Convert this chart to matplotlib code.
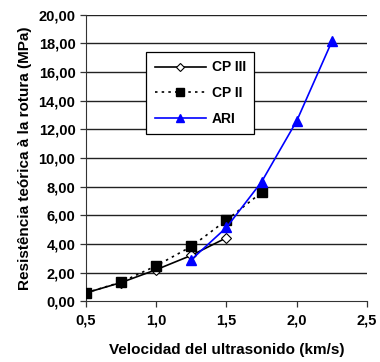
import matplotlib.pyplot as plt

plt.rcParams['font.family'] = ['Liberation Sans', 'DejaVu Sans']

# Velocidad (km/s) y resistencia (MPa)
x_cp3 = [0.5, 0.75, 1.0, 1.25, 1.5]
y_cp3 = [0.58, 1.3, 2.2, 3.2, 4.43]

x_cp2 = [0.5, 0.75, 1.0, 1.25, 1.5, 1.75]
y_cp2 = [0.58, 1.33, 2.47, 3.82, 5.66, 7.6]

x_ari = [1.25, 1.5, 1.75, 2.0, 2.25]
y_ari = [2.9, 5.15, 8.34, 12.6, 18.15]

xticks = [0.5, 1.0, 1.5, 2.0, 2.5]
yticks = [0, 2, 4, 6, 8, 10, 12, 14, 16, 18, 20]

fig = plt.figure(figsize=(3.8, 3.62), dpi=100)
ax = fig.add_axes([0.226, 0.168, 0.74, 0.791])

for y in yticks[1:]:
    ax.axhline(y, color='#222222', lw=1.0, zorder=0)

ax.plot(x_cp3, y_cp3, color='black', lw=1.2, marker='D', ms=5,
        mfc='white', mec='black', mew=0.8, label='CP III', zorder=3)
ax.plot(x_cp2, y_cp2, color='black', lw=1.2, ls=(0, (1.5, 2.5)), marker='s', ms=7,
        mfc='black', mec='black', label='CP II', zorder=4)
ax.plot(x_ari, y_ari, color='#0000FF', lw=1.2, marker='^', ms=7,
        mfc='#0000FF', mec='#0000FF', label='ARI', zorder=5)

ax.set_xlim(0.5, 2.5)
ax.set_ylim(0, 20)
ax.set_xticks(xticks)
ax.set_xticklabels([f'{v:.1f}'.replace('.', ',') for v in xticks],
                   fontsize=10.5, fontweight='bold')
ax.set_yticks(yticks)
ax.set_yticklabels([f'{v:.2f}'.replace('.', ',') for v in yticks],
                   fontsize=10.5, fontweight='bold')
ax.tick_params(direction='out', length=4, width=0.9, color='#333333')
ax.tick_params(axis='x', pad=5)

for s in ['top', 'right']:
    ax.spines[s].set_visible(False)
ax.spines['left'].set_color('#333333')
ax.spines['bottom'].set_color('#333333')

ax.set_xlabel('Velocidad del ultrasonido (km/s)', fontsize=11, fontweight='bold', labelpad=11)
ax.set_ylabel('Resistência teórica à la rotura (MPa)', fontsize=11, fontweight='bold', labelpad=5)

leg = ax.legend(loc='upper left', bbox_to_anchor=(0.215, 0.87), frameon=True, fancybox=False,
                edgecolor='black', framealpha=1, prop={'weight': 'bold', 'size': 10},
                handlelength=3.7, borderpad=0.6, labelspacing=0.85, handletextpad=0.4,
                borderaxespad=0, markerscale=0.85)
leg.get_frame().set_linewidth(0.9)

fig.savefig('out.png', dpi=100)
